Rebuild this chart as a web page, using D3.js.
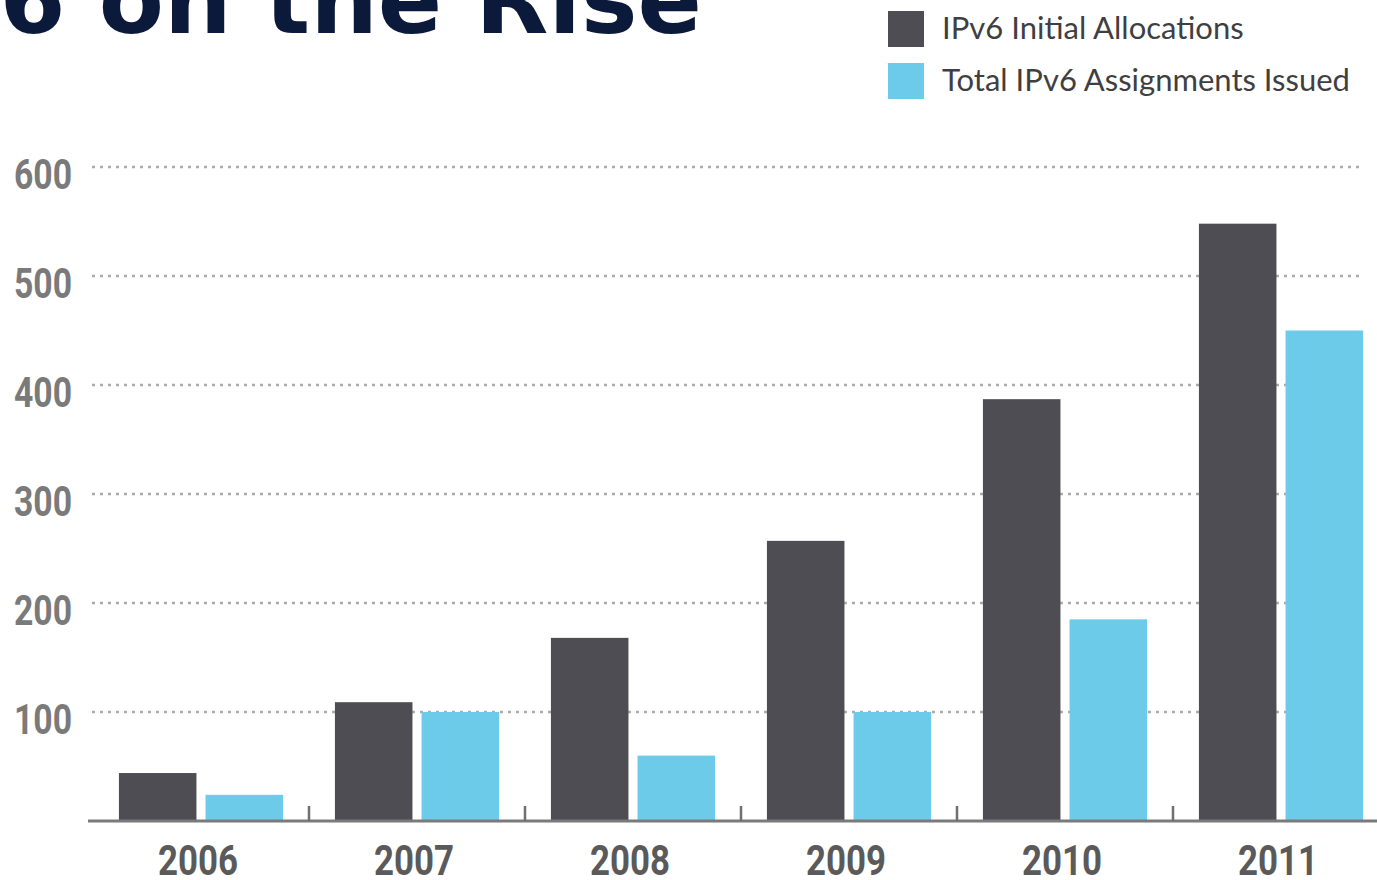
<!DOCTYPE html>
<html>
<head>
<meta charset="utf-8">
<script src="https://cdn.jsdelivr.net/npm/d3@7"></script>
<style>
  body { margin: 0; background: #fff; }
  svg { display: block; }
</style>
</head>
<body>
<div class="chart"></div>
<script>
// chart data
const years = ['2006', '2007', '2008', '2009', '2010', '2011'];
const initialAllocations = [44, 109, 168, 257, 387, 548];
const totalAssignments = [24, 100, 60, 100, 185, 450];
const yTicks = [100, 200, 300, 400, 500, 600];
const seriesNames = ['IPv6 Initial Allocations', 'Total IPv6 Assignments Issued'];
const titleText = 'IPv6 on the Rise';

const svgWidth = 1377;
const svgHeight = 880;
const colors = ['#4e4d53', '#6dcbea'];
const condensed = 'Roboto, "Liberation Sans", sans-serif';

const svg = d3.select('.chart')
  .append('svg')
  .attr('width', svgWidth)
  .attr('height', svgHeight);

//scales
const y = d3.scaleLinear()
  .domain([0, 600])
  .range([821, 167]);

const x = d3.scaleBand()
  .domain(years)
  .range([93, 1389])
  .paddingInner(0.24)
  .paddingOuter(0.12);

const xInner = d3.scaleBand()
  .domain(seriesNames)
  .range([0, x.bandwidth()])
  .paddingInner(0.105);

//title, partly cut off at the top
svg.append('text')
  .attr('x', 702)
  .attr('y', 33)
  .attr('text-anchor', 'end')
  .style('font-family', '"DejaVu Sans", sans-serif')
  .style('font-weight', 'bold')
  .style('font-size', '95px')
  .attr('fill', '#0b1a3b')
  .text(titleText);

//legend
const legend = svg.append('g')
  .attr('transform', 'translate(888, 11)');

const legendItems = legend.selectAll('g')
  .data(seriesNames)
  .enter()
  .append('g')
  .attr('transform', (d, i) => `translate(0, ${i * 52})`);

legendItems.append('rect')
  .attr('width', 36)
  .attr('height', 36)
  .attr('fill', (d, i) => colors[i]);

legendItems.append('text')
  .attr('x', 54)
  .attr('y', 28)
  .style('font-family', 'Lato, "Open Sans", sans-serif')
  .style('font-size', '31px')
  .attr('fill', '#3f3f42')
  .text(d => d);

//dotted gridlines
svg.append('g')
  .selectAll('line')
  .data(yTicks)
  .enter()
  .append('line')
  .attr('x1', 92)
  .attr('x2', 1360)
  .attr('y1', d => y(d))
  .attr('y2', d => y(d))
  .attr('stroke', '#ababab')
  .attr('stroke-width', 2.5)
  .attr('stroke-dasharray', '3,5');

//y axis labels
const leftAxis = d3.axisLeft(y).tickValues(yTicks).tickSize(0).tickPadding(0);
const yAxis = svg.append('g')
  .attr('transform', 'translate(72, 0)')
  .call(leftAxis);
yAxis.select('.domain').remove();
yAxis.selectAll('text')
  .attr('dy', '21px')
  .attr('textLength', 58)
  .attr('lengthAdjust', 'spacingAndGlyphs')
  .style('font-family', condensed)
  .style('font-weight', 'bold')
  .style('font-size', '42px')
  .attr('fill', '#7a7a7a');

//bars
const groups = svg.append('g')
  .selectAll('g')
  .data(years)
  .enter()
  .append('g')
  .attr('transform', d => `translate(${x(d)}, 0)`);

groups.selectAll('rect')
  .data((d, i) => [initialAllocations[i], totalAssignments[i]])
  .enter()
  .append('rect')
  .attr('x', (d, i) => xInner(seriesNames[i]))
  .attr('width', xInner.bandwidth())
  .attr('y', d => y(d))
  .attr('height', d => y(0) - y(d))
  .attr('fill', (d, i) => colors[i]);

//baseline with small separators between years
svg.append('line')
  .attr('x1', 88)
  .attr('x2', svgWidth)
  .attr('y1', y(0))
  .attr('y2', y(0))
  .attr('stroke', '#7a7a7a')
  .attr('stroke-width', 3);

const gap = x.step() - x.bandwidth();
svg.append('g')
  .selectAll('line')
  .data(years.slice(1))
  .enter()
  .append('line')
  .attr('x1', d => x(d) - gap / 2)
  .attr('x2', d => x(d) - gap / 2)
  .attr('y1', y(0))
  .attr('y2', y(0) - 15)
  .attr('stroke', '#6f6f6f')
  .attr('stroke-width', 2.5);

//year labels
const bottomAxis = d3.axisBottom(x).tickSize(0).tickPadding(0);
const xAxis = svg.append('g')
  .attr('transform', 'translate(-3, 875)')
  .call(bottomAxis);
xAxis.select('.domain').remove();
xAxis.selectAll('text')
  .attr('dy', 0)
  .attr('textLength', 80)
  .attr('lengthAdjust', 'spacingAndGlyphs')
  .style('font-family', condensed)
  .style('font-weight', 'bold')
  .style('font-size', '43px')
  .attr('fill', '#5a5a5a');
</script>
</body>
</html>
